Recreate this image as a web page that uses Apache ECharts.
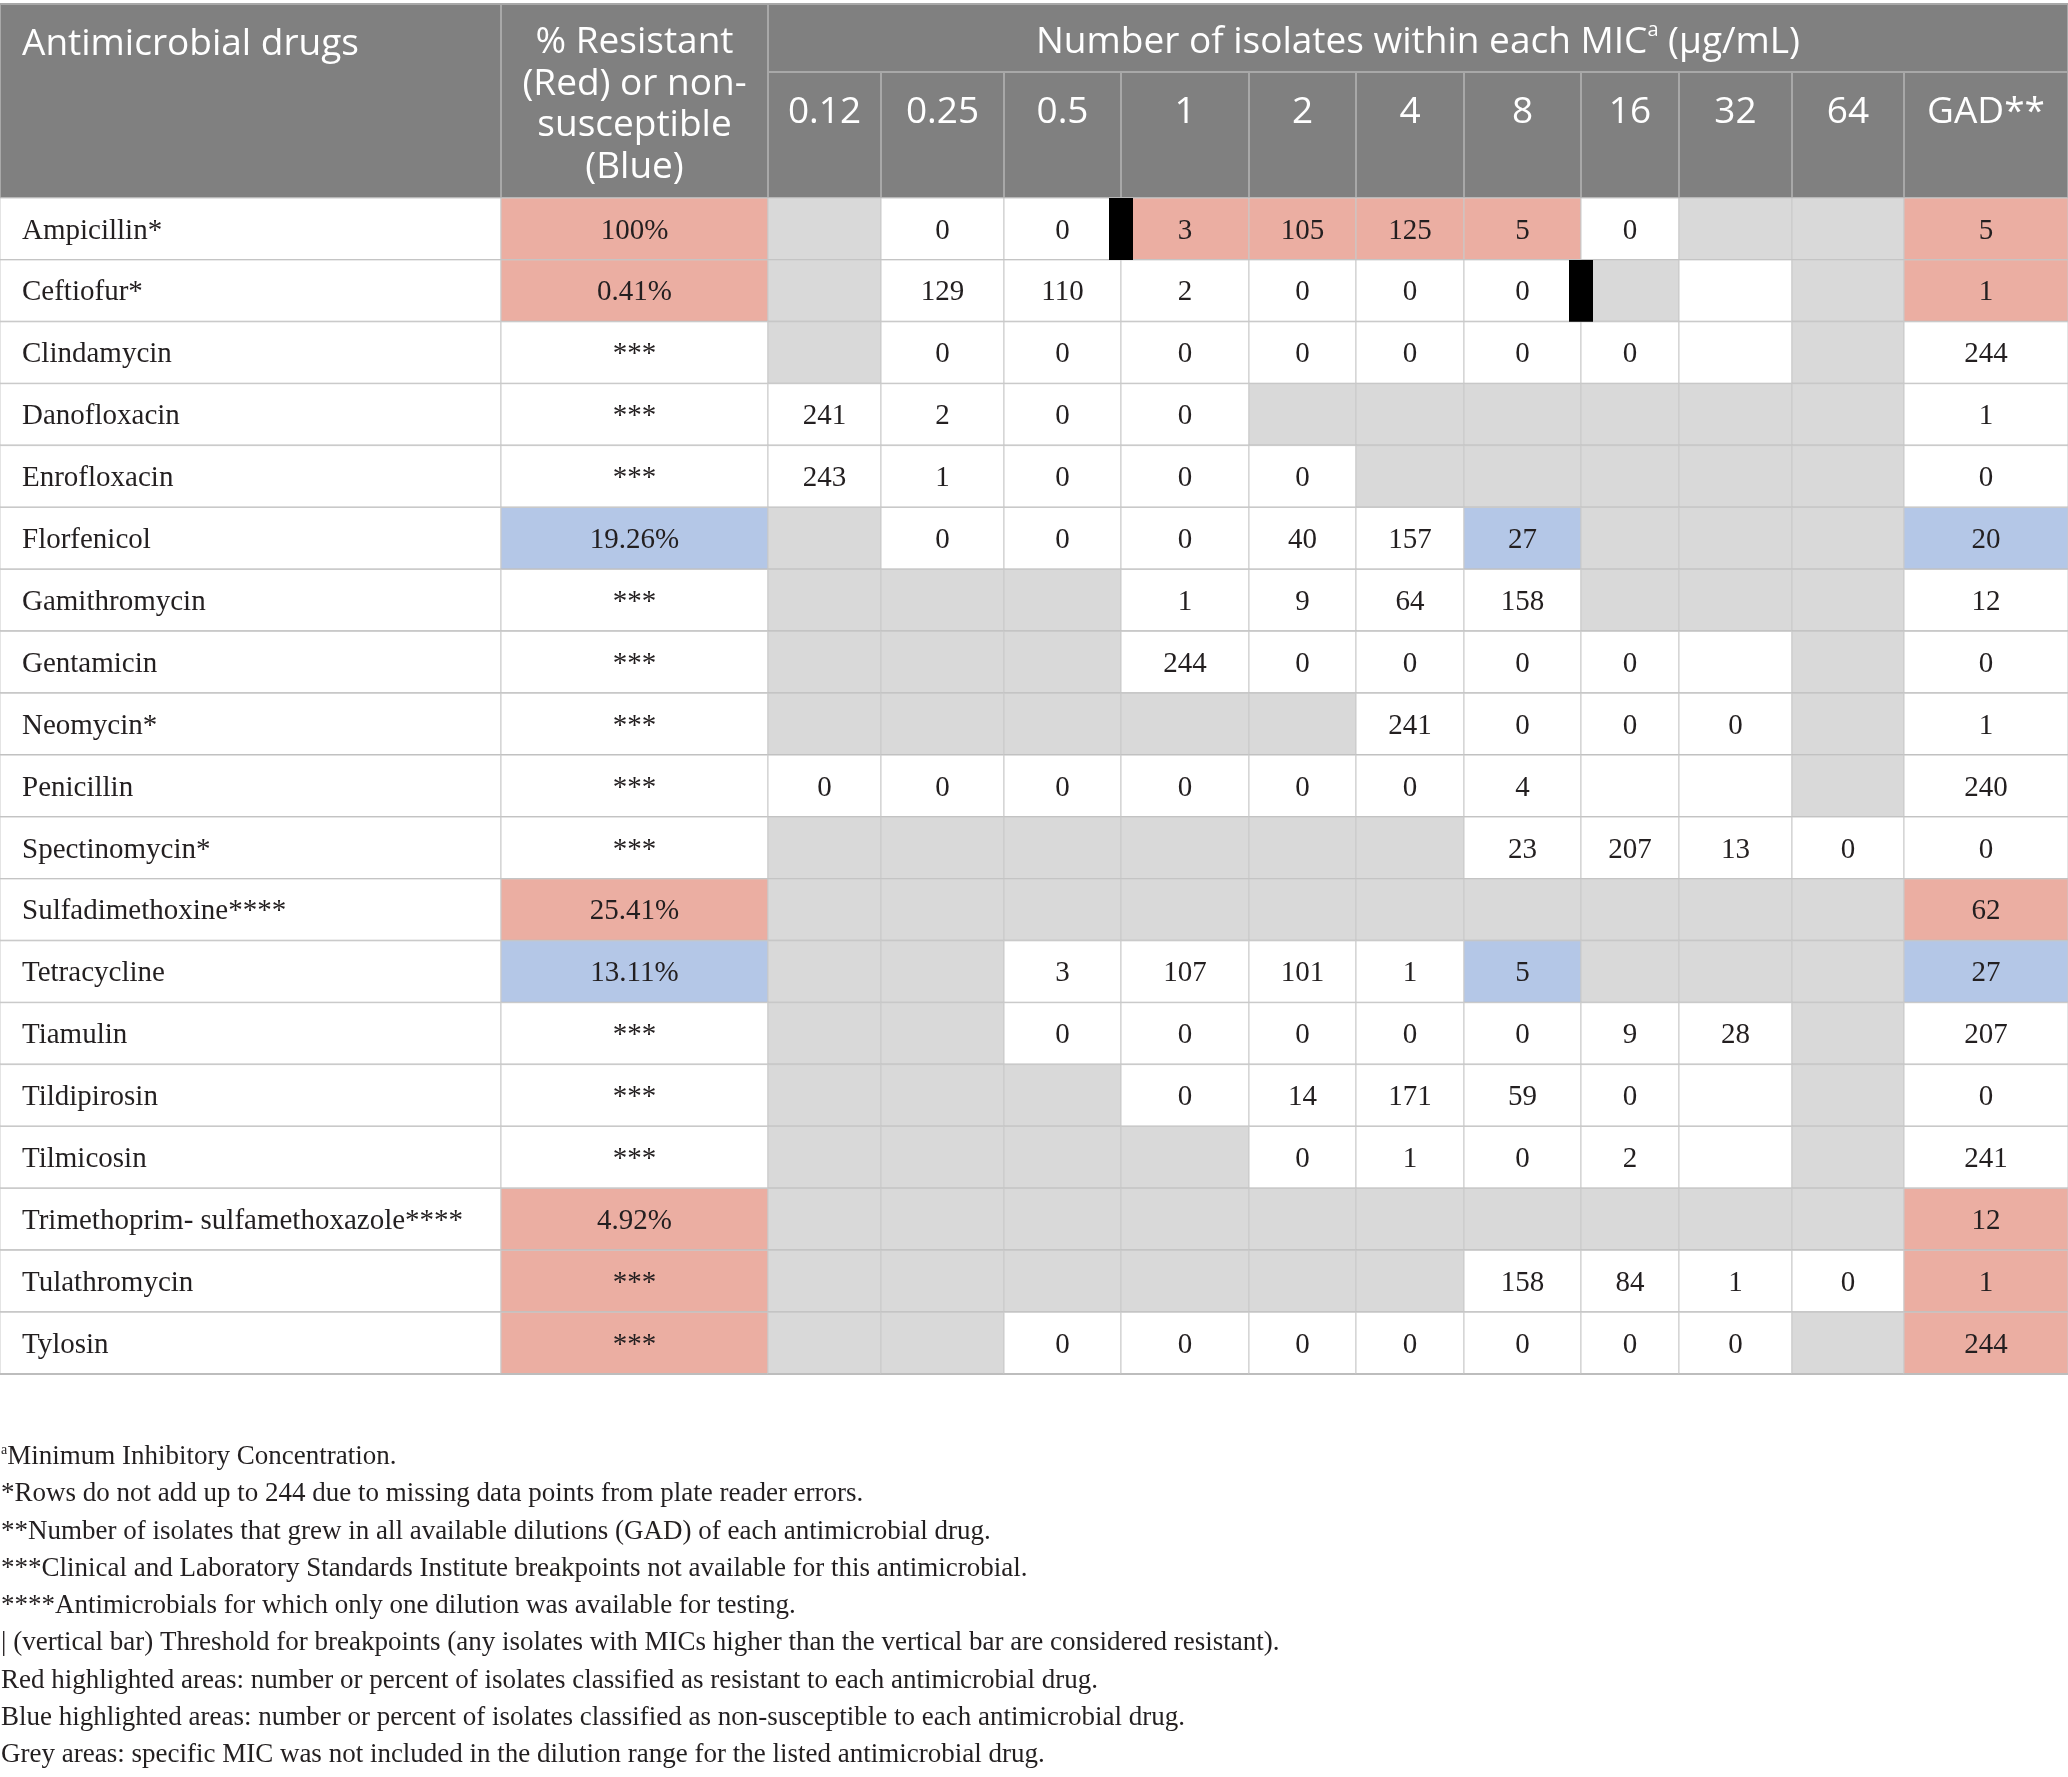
<!DOCTYPE html>
<html><head><meta charset="utf-8">
<script src="https://cdn.jsdelivr.net/npm/echarts@6/dist/echarts.min.js"></script>
<style>html,body{margin:0;padding:0;background:#fff}#c{width:2068px;height:1777px}</style>
</head><body><div id="c"></div>
<script>
// ---------- data ----------
const drugs = ['Ampicillin*','Ceftiofur*','Clindamycin','Danofloxacin','Enrofloxacin','Florfenicol','Gamithromycin','Gentamicin','Neomycin*','Penicillin','Spectinomycin*','Sulfadimethoxine****','Tetracycline','Tiamulin','Tildipirosin','Tilmicosin','Trimethoprim- sulfamethoxazole****','Tulathromycin','Tylosin'];
const pctResistant = ['100%','0.41%','***','***','***','19.26%','***','***','***','***','***','25.41%','13.11%','***','***','***','4.92%','***','***'];
// R = resistant (red), B = non-susceptible (blue), '' = none
const pctClass = ['R','R','','','','B','','','','','','R','B','','','','R','R','R'];
const micLabels = ['0.12','0.25','0.5','1','2','4','8','16','32','64','GAD**'];
const N = 'NA'; // MIC not included in the dilution range (grey); null = blank
const micCounts = [
  [N,0,0,3,105,125,5,0,N,N,5],
  [N,129,110,2,0,0,0,N,null,N,1],
  [N,0,0,0,0,0,0,0,null,N,244],
  [241,2,0,0,N,N,N,N,N,N,1],
  [243,1,0,0,0,N,N,N,N,N,0],
  [N,0,0,0,40,157,27,N,N,N,20],
  [N,N,N,1,9,64,158,N,N,N,12],
  [N,N,N,244,0,0,0,0,null,N,0],
  [N,N,N,N,N,241,0,0,0,N,1],
  [0,0,0,0,0,0,4,null,null,N,240],
  [N,N,N,N,N,N,23,207,13,0,0],
  [N,N,N,N,N,N,N,N,N,N,62],
  [N,N,3,107,101,1,5,N,N,N,27],
  [N,N,0,0,0,0,0,9,28,N,207],
  [N,N,N,0,14,171,59,0,null,N,0],
  [N,N,N,N,0,1,0,2,null,N,241],
  [N,N,N,N,N,N,N,N,N,N,12],
  [N,N,N,N,N,N,158,84,1,0,1],
  [N,N,0,0,0,0,0,0,0,N,244]
];
const micClass = [
  '...RRRR...R',
  '..........R',
  '...........',
  '...........',
  '...........',
  '......B...B',
  '...........',
  '...........',
  '...........',
  '...........',
  '...........',
  '..........R',
  '......B...B',
  '...........',
  '...........',
  '...........',
  '..........R',
  '..........R',
  '..........R'
];
// breakpoint bar placed after this MIC index (null = none)
const breakpointAfter = [2,6,null,null,null,null,null,null,null,null,null,null,null,null,null,null,null,null,null];
const footnotes = [
  'Minimum Inhibitory Concentration.',
  '*Rows do not add up to 244 due to missing data points from plate reader errors.',
  '**Number of isolates that grew in all available dilutions (GAD) of each antimicrobial drug.',
  '***Clinical and Laboratory Standards Institute breakpoints not available for this antimicrobial.',
  '****Antimicrobials for which only one dilution was available for testing.',
  '| (vertical bar) Threshold for breakpoints (any isolates with MICs higher than the vertical bar are considered resistant).',
  'Red highlighted areas: number or percent of isolates classified as resistant to each antimicrobial drug.',
  'Blue highlighted areas: number or percent of isolates classified as non-susceptible to each antimicrobial drug.',
  'Grey areas: specific MIC was not included in the dilution range for the listed antimicrobial drug.'
];

// ---------- layout ----------
const W = 2068, H = 1777;
const colEdges = [0,501,768,881,1004,1121,1249,1356,1464,1581,1679,1792,1904,2068];
const headTop = 4, headMid = 72, bodyTop = 198, rowH = 61.9;
const noteTop = 1457, noteStep = 37.25;
const RED = '#ebaea2', BLUE = '#b4c7e7', GREY = '#d9d9d9', HEAD = '#808080';
const SERIF = '"Liberation Serif", "DejaVu Serif", serif';
const SANS = '"Open Sans", "Noto Sans", sans-serif';

function fillFor(r, c) {
  if (c === 0) return '#ffffff';
  if (c === 1) return pctClass[r] === 'R' ? RED : pctClass[r] === 'B' ? BLUE : '#ffffff';
  const k = c - 2, v = micCounts[r][k];
  if (v === N) return GREY;
  const cl = micClass[r][k];
  return cl === 'R' ? RED : cl === 'B' ? BLUE : '#ffffff';
}
function textFor(r, c) {
  if (c === 0) return drugs[r];
  if (c === 1) return pctResistant[r];
  const v = micCounts[r][c - 2];
  return (v === N || v === null) ? '' : String(v);
}

const bodyData = [];
drugs.forEach((d, r) => { for (let c = 0; c < 13; c++) bodyData.push([r, c]); });
const headerData = [[0, 0], [1, 0], [2, 0]].concat(micLabels.map((l, i) => [3, i]));
const bpData = [];
breakpointAfter.forEach((k, r) => { if (k !== null) bpData.push([r, k]); });
const noteData = footnotes.map((t, i) => [i]);

const chart = echarts.init(document.getElementById('c'), null, {renderer: 'canvas', width: W, height: H});
chart.setOption({
  animation: false,
  backgroundColor: '#ffffff',
  grid: {left: 0, right: 0, top: 0, bottom: 0},
  xAxis: {type: 'value', min: 0, max: W, show: false},
  yAxis: {type: 'value', min: 0, max: H, inverse: true, show: false},
  series: [
    { // header
      type: 'custom', silent: true, data: headerData, z: 1,
      renderItem(params, api) {
        const kind = api.value(0), i = api.value(1);
        let x0, x1, y0, y1;
        if (kind === 0) { x0 = colEdges[0]; x1 = colEdges[1]; y0 = headTop; y1 = bodyTop; }
        else if (kind === 1) { x0 = colEdges[1]; x1 = colEdges[2]; y0 = headTop; y1 = bodyTop; }
        else if (kind === 2) { x0 = colEdges[2]; x1 = colEdges[13]; y0 = headTop; y1 = headMid; }
        else { x0 = colEdges[2 + i]; x1 = colEdges[3 + i]; y0 = headMid; y1 = bodyTop; }
        const p0 = api.coord([x0, y0]), p1 = api.coord([x1, y1]);
        const w = p1[0] - p0[0], h = p1[1] - p0[1];
        const children = [{type: 'rect', shape: {x: p0[0], y: p0[1], width: w, height: h},
          style: {fill: HEAD, stroke: '#a8a8a8', lineWidth: 2}}];
        const font = '37px ' + SANS;
        if (kind === 0) {
          children.push({type: 'text', style: {text: 'Antimicrobial drugs', x: p0[0] + 22, y: p0[1] + 40,
            align: 'left', verticalAlign: 'middle', font, fill: '#ffffff'}});
        } else if (kind === 1) {
          children.push({type: 'text', style: {text: '% Resistant\n(Red) or non-\nsusceptible\n(Blue)',
            x: p0[0] + w / 2, y: p0[1] + 18, align: 'center', verticalAlign: 'top', font, lineHeight: 41.5, fill: '#ffffff'}});
        } else if (kind === 2) {
          children.push({type: 'text', style: {
            text: '{n|Number of isolates within each MIC}{s|a}{n| (μg/mL)}',
            x: p0[0] + w / 2, y: p0[1] + h / 2 + 4, align: 'center', verticalAlign: 'middle',
            rich: {n: {fontSize: 37, fontFamily: SANS, fill: '#ffffff', lineHeight: 44},
                   s: {fontSize: 20, fontFamily: SANS, fill: '#ffffff', lineHeight: 44, verticalAlign: 'top', padding: [0, 0, 16, 0]}}}});
        } else {
          children.push({type: 'text', style: {text: micLabels[i], x: p0[0] + w / 2, y: p0[1] + 40,
            align: 'center', verticalAlign: 'middle', font, fill: '#ffffff'}});
        }
        return {type: 'group', children};
      }
    },
    { // body cells
      type: 'custom', silent: true, data: bodyData, z: 2,
      renderItem(params, api) {
        const r = api.value(0), c = api.value(1);
        const p0 = api.coord([colEdges[c], bodyTop + r * rowH]);
        const p1 = api.coord([colEdges[c + 1], bodyTop + (r + 1) * rowH]);
        const w = p1[0] - p0[0], h = p1[1] - p0[1];
        const children = [
          {type: 'rect', shape: {x: p0[0], y: p0[1], width: w, height: h},
           style: {fill: fillFor(r, c), stroke: '#c9c9c9', lineWidth: 1}},
          {type: 'line', shape: {x1: p0[0], y1: p1[1], x2: p1[0], y2: p1[1]},
           style: {stroke: '#bdbdbd', lineWidth: 2}}
        ];
        const t = textFor(r, c);
        if (t) children.push({type: 'text', style: {text: t,
          x: c === 0 ? p0[0] + 22 : p0[0] + w / 2, y: p0[1] + h / 2 + 2,
          align: c === 0 ? 'left' : 'center', verticalAlign: 'middle',
          font: '29px ' + SERIF, fill: '#231f20'}});
        return {type: 'group', children};
      }
    },
    { // breakpoint bars
      type: 'custom', silent: true, data: bpData, z: 3,
      renderItem(params, api) {
        const r = api.value(0), k = api.value(1);
        const xb = colEdges[3 + k];
        const p0 = api.coord([xb - 12, bodyTop + r * rowH]);
        const p1 = api.coord([xb + 12, bodyTop + (r + 1) * rowH]);
        return {type: 'rect', shape: {x: p0[0], y: p0[1], width: p1[0] - p0[0], height: p1[1] - p0[1]},
          style: {fill: '#000000'}};
      }
    },
    { // footnotes
      type: 'custom', silent: true, data: noteData, z: 4,
      renderItem(params, api) {
        const i = api.value(0);
        const p = api.coord([0, noteTop + i * noteStep]);
        const rich = {n: {fontSize: 27, fontFamily: SERIF, fill: '#231f20'},
                      s: {fontSize: 14, fontFamily: SERIF, fill: '#231f20', verticalAlign: 'top', padding: [0, 0, 11, 0]}};
        const txt = (i === 0 ? '{s|a}' : '') + '{n|' + footnotes[i] + '}';
        return {type: 'text', style: {text: txt, rich, x: p[0] + 1, y: p[1], align: 'left', verticalAlign: 'middle'}};
      }
    }
  ]
});
</script></body></html>
